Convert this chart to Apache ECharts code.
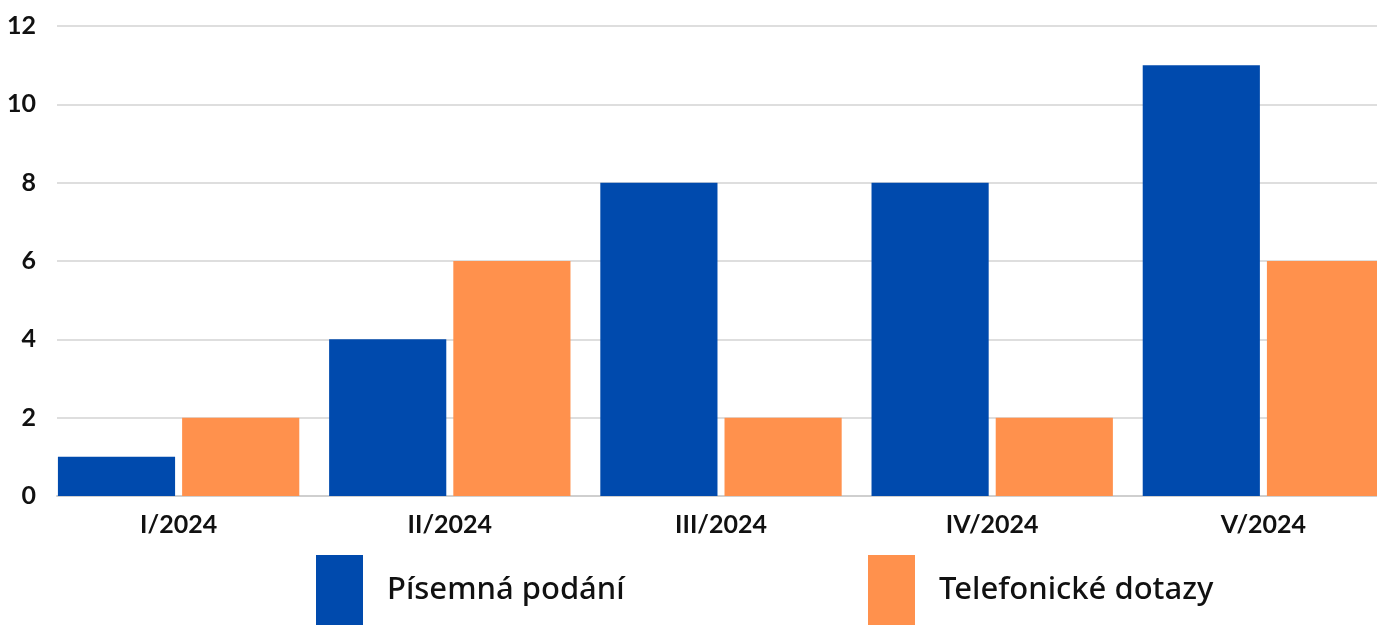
<!DOCTYPE html>
<html>
<head>
<meta charset="utf-8">
<script src="https://cdn.jsdelivr.net/npm/echarts@6/dist/echarts.min.js"></script>
<style>
  html, body { margin: 0; padding: 0; background: #fff; }
  #chart { width: 1377px; height: 625px; }
</style>
</head>
<body>
<div id="chart"></div>
<script>
const categories = ['I/2024', 'II/2024', 'III/2024', 'IV/2024', 'V/2024'];
const seriesNames = ['Písemná podání', 'Telefonické dotazy'];
const pisemna = [1, 4, 8, 8, 11];
const telefonicke = [2, 6, 2, 2, 6];
const yTicks = [0, 2, 4, 6, 8, 10, 12];
const colors = ['#004AAD', '#FF914D'];

const chart = echarts.init(document.getElementById('chart'), null, { renderer: 'canvas' });
const axisFont = { fontFamily: 'Lato', fontWeight: 700, color: '#111' };
const legendText = { fontFamily: 'Noto Sans', fontWeight: 500, fontSize: 31, color: '#111', padding: [0, 0, 0, 19] };

chart.setOption({
  animation: false,
  backgroundColor: '#fff',
  grid: [
    { left: 57, right: 0, top: 26, bottom: 129, outerBoundsMode: 'none', containLabel: false },
    { left: 43, width: 1356, top: 26, bottom: 129, outerBoundsMode: 'none', containLabel: false }
  ],
  legend: [
    {
      data: [seriesNames[0]], left: 316, top: 555, padding: 0, itemWidth: 47, itemHeight: 70, itemGap: 0,
      icon: 'rect', textStyle: legendText
    },
    {
      data: [seriesNames[1]], left: 868, top: 555, padding: 0, itemWidth: 47, itemHeight: 70, itemGap: 0,
      icon: 'rect', textStyle: legendText
    }
  ],
  xAxis: [
    {
      gridIndex: 0, type: 'category', data: categories,
      axisLine: { show: true, lineStyle: { color: '#cfcfcf', width: 2 } },
      axisTick: { show: false }, axisLabel: { show: false }
    },
    {
      gridIndex: 1, type: 'category', data: categories,
      axisLine: { show: false }, axisTick: { show: false },
      axisLabel: Object.assign({ fontSize: 25, margin: 16 }, axisFont)
    }
  ],
  yAxis: [
    {
      gridIndex: 0, type: 'value', min: yTicks[0], max: yTicks[yTicks.length - 1], interval: 2,
      axisLine: { show: false }, axisTick: { show: false },
      axisLabel: Object.assign({ fontSize: 25, margin: 21 }, axisFont),
      splitLine: { lineStyle: { color: '#dedede', width: 2 } }
    },
    {
      gridIndex: 1, type: 'value', min: yTicks[0], max: yTicks[yTicks.length - 1], interval: 2,
      show: false, splitLine: { show: false }
    }
  ],
  series: [
    {
      name: seriesNames[0], type: 'bar', xAxisIndex: 1, yAxisIndex: 1, data: pisemna,
      barCategoryGap: '11%', barGap: '6%', itemStyle: { color: colors[0] }
    },
    {
      name: seriesNames[1], type: 'bar', xAxisIndex: 1, yAxisIndex: 1, data: telefonicke,
      barCategoryGap: '11%', barGap: '6%', itemStyle: { color: colors[1] }
    }
  ]
});
</script>
</body>
</html>
